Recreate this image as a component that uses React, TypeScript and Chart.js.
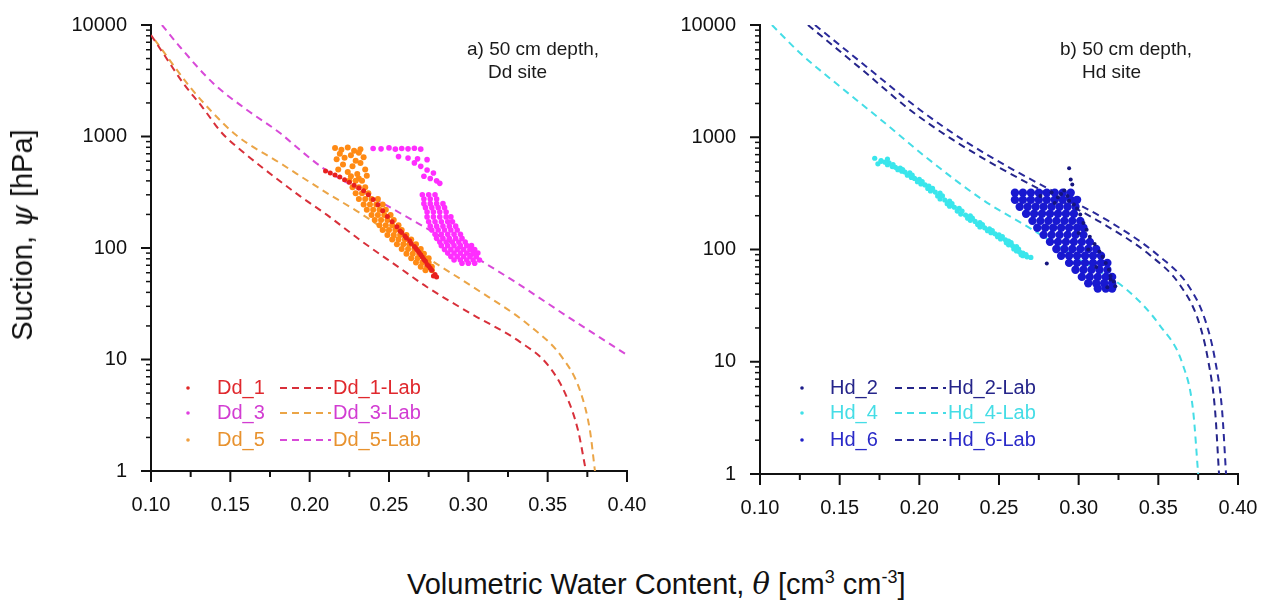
import React, { useEffect, useRef } from 'react';
import { Chart, registerables } from 'chart.js';
Chart.register(...registerables);

type P = [number, number];
const FONT = '"Liberation Sans", Arial, Helvetica, sans-serif';

const yTickLabels = ['1', '10', '100', '1000', '10000'];
const xTickLabels = ['0.10', '0.15', '0.20', '0.25', '0.30', '0.35', '0.40'];

// ---------- Panel a) Dd site ----------
const dd1: P[] = [[0.210,490],[0.213,470],[0.216,452],[0.219,434],[0.222,410],[0.225,388],[0.228,366],[0.231,346],[0.234,326],[0.237,300],[0.240,272],[0.243,244],[0.246,216],[0.249,192],[0.252,172],[0.255,155],[0.258,138],[0.261,123],[0.264,110],[0.267,99],[0.269,91],[0.271,83],[0.273,76],[0.275,69],[0.277,63],[0.279,58],[0.280,55],[0.278,56],[0.276,66],[0.274,71],[0.272,79],[0.270,87],[0.268,95],[0.266,103],[0.263,116],[0.260,128],[0.257,142]];
const dd3: P[] = [[0.240,780],[0.245,775],[0.250,790],[0.254,770],[0.258,780],[0.262,775],[0.266,785],[0.270,770],[0.256,660],[0.262,640],[0.268,630],[0.274,620],[0.266,580],[0.270,540],[0.274,500],[0.278,470],[0.272,440],[0.276,420],[0.280,400],[0.282,380],
[0.271,300],[0.275,300],[0.279,300],[0.272,275],[0.276,275],[0.280,275],[0.272,250],[0.276,250],[0.280,250],[0.284,250],[0.273,230],[0.277,230],[0.281,230],[0.285,230],[0.274,210],[0.278,210],[0.282,210],[0.286,210],
[0.274,190],[0.278,190],[0.282,190],[0.286,190],[0.289,190],[0.275,172],[0.279,172],[0.283,172],[0.287,172],[0.290,172],[0.276,157],[0.280,157],[0.284,157],[0.288,157],[0.292,157],[0.277,145],[0.281,145],[0.285,145],[0.289,145],[0.293,145],
[0.279,133],[0.283,133],[0.287,133],[0.291,133],[0.295,133],[0.280,122],[0.284,122],[0.288,122],[0.292,122],[0.296,122],[0.282,113],[0.286,113],[0.290,113],[0.294,113],[0.298,113],
[0.283,105],[0.287,105],[0.291,105],[0.295,105],[0.299,105],[0.302,105],[0.285,97],[0.289,97],[0.293,97],[0.297,97],[0.301,97],[0.304,97],[0.287,90],[0.291,90],[0.295,90],[0.299,90],[0.303,90],[0.306,90],
[0.289,84],[0.293,84],[0.297,84],[0.301,84],[0.305,84],[0.291,78],[0.295,78],[0.299,78],[0.303,78],[0.307,78],[0.296,73],[0.300,73],[0.304,73]];
const dd5: P[] = [[0.216,790],[0.220,760],[0.224,795],[0.228,745],[0.232,770],[0.219,700],[0.226,680],[0.231,715],[0.217,625],[0.222,645],[0.229,605],[0.234,650],[0.221,560],[0.227,540],[0.232,580],[0.218,505],[0.224,480],[0.230,462],[0.235,505],[0.226,440],[0.231,420],[0.236,445],
[0.225,400],[0.229,400],[0.233,400],[0.227,350],[0.231,350],[0.235,350],[0.229,310],[0.233,310],[0.237,310],[0.231,275],[0.235,275],[0.239,275],[0.243,275],[0.234,245],[0.238,245],[0.242,245],[0.246,245],
[0.236,220],[0.240,220],[0.244,220],[0.248,220],[0.239,198],[0.243,198],[0.247,198],[0.251,198],[0.241,178],[0.245,178],[0.249,178],[0.253,178],[0.244,160],[0.248,160],[0.252,160],[0.256,160],
[0.246,145],[0.250,145],[0.254,145],[0.258,145],[0.249,131],[0.253,131],[0.257,131],[0.261,131],[0.252,119],[0.256,119],[0.260,119],[0.264,119],[0.255,108],[0.259,108],[0.263,108],[0.267,108],
[0.258,98],[0.262,98],[0.266,98],[0.270,98],[0.261,89],[0.265,89],[0.269,89],[0.272,89],[0.264,81],[0.268,81],[0.272,81],[0.275,81],[0.267,74],[0.271,74],[0.275,74],[0.270,68],[0.274,68],[0.277,68],[0.273,63],[0.277,63]];
const dd1Lab: P[] = [[0.1000,8130],[0.1088,5270],[0.1202,3020],[0.1328,1800],[0.1447,1075],[0.1580,726],[0.1706,521],[0.1939,292],[0.2109,198],[0.2317,118],[0.2569,66],[0.2739,44.7],[0.3010,26.1],[0.3325,14.4],[0.3502,8.9],[0.3615,4.8],[0.3691,2.33],[0.3741,1]];
const dd3Lab: P[] = [[0.1025,7330],[0.1246,2780],[0.1391,1625],[0.1536,1030],[0.1813,578],[0.2109,311],[0.2317,206],[0.2569,118],[0.2821,69],[0.3029,44.7],[0.3388,20],[0.3590,10.5],[0.3703,5.3],[0.3766,2.33],[0.3798,1]];
const dd5Lab: P[] = [[0.1069,10000],[0.1183,6350],[0.1390,3020],[0.1605,1730],[0.1813,1074],[0.1939,757],[0.2084,521],[0.2317,331],[0.2569,206],[0.2821,128],[0.3073,78],[0.3306,48.5],[0.3640,23.5],[0.4000,11]];

// ---------- Panel b) Hd site ----------
const hd2: P[] = [[0.283,322],[0.289,312],[0.293,300],[0.291,335],[0.287,292],[0.294,272],[0.297,252],[0.299,232],[0.301,205],[0.303,172],[0.305,150],[0.307,130],[0.310,112],[0.313,96],[0.315,86],[0.317,76],[0.319,66],[0.320,58],[0.322,52],[0.323,47],[0.318,46],[0.320,54],[0.294,530],[0.295,420],[0.296,380],[0.280,75],[0.276,300],[0.285,260],[0.300,140],[0.306,100],[0.311,70]];
const hd4: P[] = [[0.172,650],[0.176,620],[0.180,640],[0.174,580],
[0.176,610],[0.1785,600],[0.181,590],[0.183,548],[0.185,540],[0.188,532],[0.189,498],[0.191,490],[0.194,482],[0.195,438],[0.197,430],[0.200,422],[0.201,384],[0.2036,376],[0.206,368],[0.207,332],[0.210,325],[0.213,318],[0.213,282],[0.216,276],[0.219,270],[0.219,243],[0.222,238],[0.225,233],[0.226,207],[0.229,203],[0.232,199],[0.232,182],[0.235,178],[0.238,174],[0.238,159],[0.241,156],[0.244,153],[0.245,141],[0.2475,138],[0.250,135],[0.251,124],[0.254,122],[0.256,119],[0.256,110],[0.2585,108],[0.261,106],[0.261,97],[0.263,95],[0.265,93],[0.265,88],[0.2676,86],[0.270,85],
[0.180,570],[0.1835,570],[0.1865,514],[0.1895,514],[0.1925,459],[0.1955,459],[0.1988,402],[0.2018,402],[0.2053,350],[0.2083,350],[0.2115,300],[0.2145,300],[0.2175,256],[0.2205,256],[0.2238,220],[0.2268,220],[0.2303,190],[0.2333,190],[0.2366,167],[0.2396,167],[0.2428,147],[0.2458,147],[0.2491,130],[0.2521,130],[0.2546,115],[0.2576,115],[0.2593,101],[0.2623,101],[0.2639,90],[0.2669,90]];
const hd6: P[] = [
[0.260,320],[0.265,320],[0.270,320],[0.275,320],[0.280,320],[0.285,320],[0.290,320],[0.295,320],
[0.260,277],[0.265,277],[0.270,277],[0.275,277],[0.280,277],[0.285,277],[0.290,277],[0.295,277],[0.299,277],
[0.263,240],[0.268,240],[0.273,240],[0.278,240],[0.283,240],[0.288,240],[0.293,240],[0.298,240],
[0.267,208],[0.272,208],[0.277,208],[0.282,208],[0.287,208],[0.292,208],[0.297,208],
[0.271,180],[0.276,180],[0.281,180],[0.286,180],[0.291,180],[0.296,180],[0.301,180],
[0.274,156],[0.279,156],[0.284,156],[0.289,156],[0.294,156],[0.299,156],[0.303,156],
[0.278,135],[0.283,135],[0.288,135],[0.293,135],[0.298,135],[0.303,135],
[0.282,117],[0.287,117],[0.292,117],[0.297,117],[0.302,117],[0.307,117],
[0.286,101],[0.291,101],[0.296,101],[0.301,101],[0.306,101],[0.311,101],
[0.289,88],[0.294,88],[0.299,88],[0.304,88],[0.309,88],[0.314,88],
[0.294,76],[0.299,76],[0.304,76],[0.309,76],[0.314,76],[0.318,76],
[0.298,66],[0.303,66],[0.308,66],[0.313,66],[0.318,66],
[0.302,57],[0.307,57],[0.312,57],[0.317,57],[0.321,57],
[0.306,50],[0.311,50],[0.316,50],[0.321,50],
[0.312,45],[0.317,45],[0.321,45]];
const hd2Lab: P[] = [[0.1301,10000],[0.1628,4140],[0.1942,1750],[0.2212,946],[0.2507,532],[0.2821,306],[0.3134,176],[0.3448,89],[0.3637,48],[0.3750,23.5],[0.3812,10.4],[0.3856,3.7],[0.3881,1]];
const hd4Lab: P[] = [[0.1075,10000],[0.1251,5630],[0.1502,2830],[0.1753,1455],[0.2048,653],[0.2400,276],[0.2714,149],[0.3009,80.6],[0.3304,43.6],[0.3510,21],[0.3655,9.3],[0.3718,3.7],[0.3750,1]];
const hd6Lab: P[] = [[0.1345,10000],[0.1678,4140],[0.2005,1750],[0.2275,946],[0.2570,532],[0.2884,306],[0.3197,176],[0.3498,89],[0.3687,48],[0.3794,23.5],[0.3856,10.4],[0.3900,3.7],[0.3925,1]];

const toXY = (arr: P[]) => arr.map(([x, y]) => ({ x, y }));

function scatterDs(label: string, data: P[], color: string, r = 2) {
  return { type: 'scatter', label, data: toXY(data), backgroundColor: color, borderColor: color, pointRadius: r, pointBorderWidth: 0, pointHoverRadius: r, showLine: false, order: 0 };
}
function labDs(label: string, data: P[], color: string) {
  return { type: 'line', label, data: toXY(data), borderColor: color, backgroundColor: color, borderWidth: 2, borderDash: [7, 5], pointRadius: 0, cubicInterpolationMode: 'monotone', fill: false, order: 1 };
}

interface LegendRow { dot: string; name: string; nameColor: string; line: string; lab: string; labColor: string; }
interface PanelCfg {
  legend: LegendRow[]; legendX: { dot: number; text: number; l0: number; l1: number; lab: number }; legendY: number[];
  notes: { text: string; x: number; y: number }[];
}

function overlay(cfg: PanelCfg) {
  return {
    id: 'overlay',
    afterDraw(chart: any) {
      const ctx = chart.ctx as CanvasRenderingContext2D;
      const xs = chart.scales.x, ys = chart.scales.y, a = chart.chartArea;
      ctx.save();
      ctx.strokeStyle = '#111';
      for (let d = 0; d <= 4; d++) {
        for (let m = 1; m <= 9; m++) {
          const v = m * Math.pow(10, d);
          if (v > 10000) break;
          const py = ys.getPixelForValue(v);
          const len = m === 1 ? 10 : 5;
          ctx.lineWidth = m === 1 ? 2 : 1.5;
          ctx.beginPath(); ctx.moveTo(a.left - len, py); ctx.lineTo(a.left, py); ctx.stroke();
        }
      }
      for (let i = 0; i <= 12; i++) {
        const px = xs.getPixelForValue(0.1 + i * 0.025);
        const len = i % 2 === 0 ? 11 : 6;
        ctx.lineWidth = 2;
        ctx.beginPath(); ctx.moveTo(px, a.bottom); ctx.lineTo(px, a.bottom + len); ctx.stroke();
      }
      ctx.fillStyle = '#1a1a1a';
      ctx.font = `19px ${FONT}`;
      ctx.textAlign = 'left';
      ctx.textBaseline = 'middle';
      cfg.notes.forEach(n => ctx.fillText(n.text, n.x, n.y));
      ctx.font = `20px ${FONT}`;
      cfg.legend.forEach((r, i) => {
        const y = cfg.legendY[i];
        ctx.fillStyle = r.dot;
        ctx.beginPath(); ctx.arc(cfg.legendX.dot, y, 1.8, 0, Math.PI * 2); ctx.fill();
        ctx.fillStyle = r.nameColor;
        ctx.fillText(r.name, cfg.legendX.text, y);
        ctx.strokeStyle = r.line; ctx.lineWidth = 2; ctx.setLineDash([7, 5]);
        ctx.beginPath(); ctx.moveTo(cfg.legendX.l0, y); ctx.lineTo(cfg.legendX.l1, y); ctx.stroke();
        ctx.setLineDash([]);
        ctx.fillStyle = r.labColor;
        ctx.fillText(r.lab, cfg.legendX.lab, y);
      });
      ctx.restore();
    },
  };
}

function makeOptions(yWidth: number, xHeight: number, padRight: number): any {
  return {
    responsive: false,
    animation: false,
    layout: { padding: { left: 0, top: 25, right: padRight, bottom: 0 } },
    plugins: { legend: { display: false }, tooltip: { enabled: false } },
    scales: {
      x: {
        type: 'linear', min: 0.1, max: 0.4,
        grid: { display: false },
        border: { display: true, color: '#111', width: 2 },
        ticks: {
          stepSize: 0.05, padding: 14, maxRotation: 0, autoSkip: false,
          color: '#111', font: { family: FONT, size: 20 },
          callback: (v: number) => xTickLabels[Math.round((v - 0.1) / 0.05)] ?? '',
        },
        afterFit: (s: any) => { s.height = xHeight; s.paddingLeft = 0; s.paddingRight = 0; },
      },
      y: {
        type: 'logarithmic', min: 1, max: 10000,
        grid: { display: false },
        border: { display: true, color: '#111', width: 2 },
        ticks: {
          padding: 16, autoSkip: false, color: '#111', font: { family: FONT, size: 20 },
          callback: (v: number) => yTickLabels.find(t => Math.abs(Number(t) - v) < 1e-6 * Number(t)) ?? '',
        },
        afterFit: (s: any) => { s.width = yWidth; s.paddingTop = 0; s.paddingBottom = 0; },
      },
    },
  };
}

const leftLegend: LegendRow[] = [
  { dot: '#e02828', name: 'Dd_1', nameColor: '#e0282d', line: '#d8303a', lab: 'Dd_1-Lab', labColor: '#e0282d' },
  { dot: '#e040e0', name: 'Dd_3', nameColor: '#d23cd2', line: '#eba547', lab: 'Dd_3-Lab', labColor: '#d23cd2' },
  { dot: '#f0a040', name: 'Dd_5', nameColor: '#e8922e', line: '#d84ad8', lab: 'Dd_5-Lab', labColor: '#e8922e' },
];
const rightLegend: LegendRow[] = [
  { dot: '#1c1c8a', name: 'Hd_2', nameColor: '#25258a', line: '#25258a', lab: 'Hd_2-Lab', labColor: '#25258a' },
  { dot: '#40e0e8', name: 'Hd_4', nameColor: '#45dde6', line: '#45dde6', lab: 'Hd_4-Lab', labColor: '#45dde6' },
  { dot: '#2020c8', name: 'Hd_6', nameColor: '#2a2ac8', line: '#2a2a9a', lab: 'Hd_6-Lab', labColor: '#2a2ac8' },
];

export default function App() {
  const leftRef = useRef<HTMLCanvasElement>(null);
  const rightRef = useRef<HTMLCanvasElement>(null);

  useEffect(() => {
    const left = new Chart(leftRef.current!, {
      type: 'scatter',
      data: {
        datasets: [
          scatterDs('Dd_1', dd1, '#e8201e', 2.5),
          scatterDs('Dd_5', dd5, '#ff8a14', 3),
          scatterDs('Dd_3', dd3, '#ff2eff', 2.8),
          labDs('Dd_1-Lab', dd1Lab, '#d8303a'),
          labDs('Dd_3-Lab', dd3Lab, '#eba547'),
          labDs('Dd_5-Lab', dd5Lab, '#d84ad8'),
        ] as any,
      },
      options: makeOptions(151, 59, 23),
      plugins: [overlay({
        legend: leftLegend,
        legendX: { dot: 188, text: 217, l0: 280, l1: 331, lab: 333 },
        legendY: [388, 413, 440],
        notes: [{ text: 'a) 50 cm depth,', x: 467, y: 50 }, { text: 'Dd site', x: 488, y: 73 }],
      })],
    });
    const right = new Chart(rightRef.current!, {
      type: 'scatter',
      data: {
        datasets: [
          scatterDs('Hd_2', hd2, '#14147e', 2),
          scatterDs('Hd_4', hd4, '#3ae6ec', 2.6),
          scatterDs('Hd_6', hd6, '#1818d0', 4.2),
          labDs('Hd_2-Lab', hd2Lab, '#25258a'),
          labDs('Hd_4-Lab', hd4Lab, '#45dde6'),
          labDs('Hd_6-Lab', hd6Lab, '#2a2a9a'),
        ] as any,
      },
      options: makeOptions(120, 56, 36),
      plugins: [overlay({
        legend: rightLegend,
        legendX: { dot: 162, text: 190, l0: 255, l1: 306, lab: 308 },
        legendY: [388, 413, 440],
        notes: [{ text: 'b) 50 cm depth,', x: 420, y: 50 }, { text: 'Hd site', x: 442, y: 73 }],
      })],
    });
    return () => { left.destroy(); right.destroy(); };
  }, []);

  return (
    <div style={{ position: 'absolute', left: 0, top: 0, width: 1274, height: 604, background: '#fff', fontFamily: FONT, overflow: 'hidden' }}>
      <div style={{ position: 'absolute', left: 0, top: 0 }}>
        <canvas ref={leftRef} width={650} height={530} style={{ display: 'block' }} />
      </div>
      <div style={{ position: 'absolute', left: 640, top: 0 }}>
        <canvas ref={rightRef} width={634} height={530} style={{ display: 'block' }} />
      </div>
      <div style={{ position: 'absolute', left: 22, top: 235, transform: 'translate(-50%, -50%) rotate(-90deg)', whiteSpace: 'nowrap', fontSize: 29, color: '#111', lineHeight: '34px' }}>
        Suction, <i style={{ fontFamily: '"DejaVu Serif", serif' }}>ψ</i> [hPa]
      </div>
      <div style={{ position: 'absolute', left: 407, top: 560, whiteSpace: 'nowrap', fontSize: 29, color: '#111', lineHeight: '34px' }}>
        Volumetric Water Content, <i style={{ fontFamily: '"DejaVu Serif", serif' }}>θ</i> [cm<sup style={{ fontSize: 18 }}>3</sup> cm<sup style={{ fontSize: 18 }}>-3</sup>]
      </div>
    </div>
  );
}
